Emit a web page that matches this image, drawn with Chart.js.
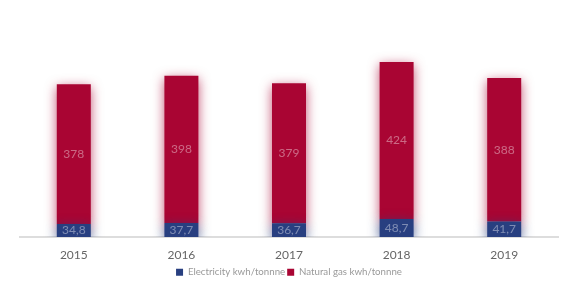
<!DOCTYPE html>
<html>
<head>
<meta charset="utf-8">
<script src="https://cdn.jsdelivr.net/npm/chart.js@4"></script>
<style>
  html, body { margin: 0; padding: 0; background: #fff; }
  #wrap { width: 579px; height: 289px; position: relative; }
</style>
</head>
<body>
<div id="wrap"><canvas id="energyChart"></canvas></div>
<script>
const years = ["2015", "2016", "2017", "2018", "2019"];
const electricity = [34.8, 37.7, 36.7, 48.7, 41.7];
const naturalGas = [378, 398, 379, 424, 388];

// labels inside the bars, white and faint like the original
const barLabels = {
  id: "barLabels",
  afterDatasetsDraw(chart) {
    const ctx = chart.ctx;
    ctx.save();
    ctx.font = "12px Lato";
    ctx.textAlign = "center";
    ctx.textBaseline = "middle";
    ctx.fillStyle = "rgba(255,255,255,0.4)";
    chart.data.datasets.forEach((ds, i) => {
      chart.getDatasetMeta(i).data.forEach((bar, j) => {
        const v = ds.data[j];
        const text = i === 0 ? v.toFixed(1).replace(".", ",") : String(v);
        ctx.fillText(text, bar.x, (bar.y + bar.base) / 2);
      });
    });
    ctx.restore();
  }
};

// soft glow round each bar
const barGlow = {
  id: "barGlow",
  beforeDatasetDraw(chart, args) {
    const ctx = chart.ctx;
    ctx.save();
    ctx.shadowColor = args.index === 0 ? "rgba(40,63,128,0.8)" : "rgba(169,5,51,0.7)";
    ctx.shadowBlur = 12;
    ctx.shadowOffsetY = 3;
  },
  afterDatasetDraw(chart) {
    chart.ctx.restore();
  }
};

new Chart(document.getElementById("energyChart"), {
  type: "bar",
  data: {
    labels: years,
    datasets: [
      {
        label: "Electricity kwh/tonnne",
        data: electricity,
        backgroundColor: "#283f80",
        borderWidth: 0,
      },
      {
        label: "Natural gas kwh/tonnne",
        data: naturalGas,
        backgroundColor: "#a90533",
        borderWidth: 0,
      },
    ],
  },
  options: {
    responsive: true,
    maintainAspectRatio: false,
    animation: false,
    layout: {
      padding: { left: 20, right: 21, top: 15, bottom: 2 },
    },
    datasets: {
      bar: { categoryPercentage: 1, barPercentage: 0.316 },
    },
    plugins: {
      legend: {
        position: "bottom",
        labels: {
          boxWidth: 7,
          boxHeight: 7,
          padding: 2,
          color: "#999999",
          font: { family: "Lato", size: 9.7 },
        },
      },
      tooltip: { enabled: false },
    },
    scales: {
      x: {
        stacked: true,
        grid: { display: false },
        border: { color: "#dddddd", width: 2 },
        ticks: {
          color: "#666666",
          padding: 3,
          font: { family: "Lato", size: 12 },
        },
      },
      y: {
        stacked: true,
        display: false,
        min: 0,
        max: 600,
      },
    },
  },
  plugins: [barGlow, barLabels],
});
</script>
</body>
</html>
